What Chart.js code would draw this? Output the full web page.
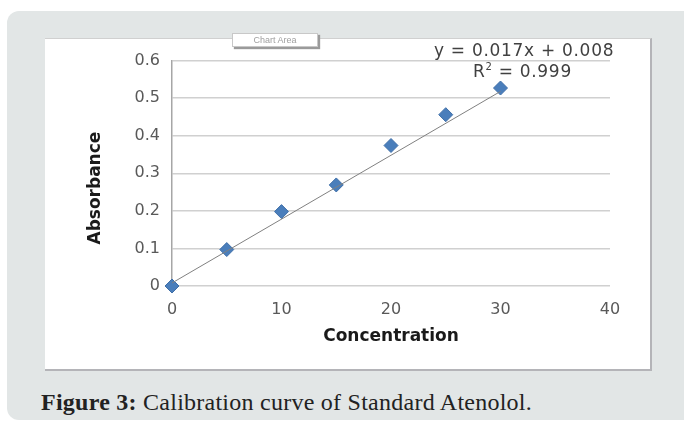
<!DOCTYPE html>
<html>
<head>
<meta charset="utf-8">
<script src="https://cdn.jsdelivr.net/npm/chart.js@4.4.0/dist/chart.umd.min.js"></script>
<style>
  body { margin: 0; background: #fff; width: 684px; height: 425px; overflow: hidden; position: relative; }
  #panel { position: absolute; left: 7px; top: 11px; width: 700px; height: 409px; background: #e2e6e6; border-radius: 12px; }
  #box { position: absolute; left: 45px; top: 38px; width: 605px; height: 330px; background: #fff; border-right: 2px solid #b4b4b8; border-bottom: 2px solid #b4b4b8; border-top: 1px solid #d0d0d0; }
  #box canvas { position: absolute; left: 0; top: 0; }
  #tag { position: absolute; left: 232px; top: 33px; width: 84px; height: 12px; background: #fff; border: 1px solid #c8c8c8; box-shadow: 2px 2px 1px #9a9a9a; font: 9px "Liberation Sans", sans-serif; color: #a0a0a0; text-align: center; line-height: 12px; }
  .eq { position: absolute; font: 17px "DejaVu Sans", sans-serif; color: #404040; white-space: nowrap; letter-spacing: 0.7px; }
  #caption { position: absolute; left: 41px; top: 389px; font: 24px "Liberation Serif", serif; color: #222; white-space: nowrap; letter-spacing: 0.25px; }
</style>
</head>
<body>
<div id="panel"></div>
<div id="box"><canvas id="myChart" width="605" height="330"></canvas></div>
<div id="tag">Chart Area</div>
<div class="eq" style="left:434px; top:40px;">y = 0.017x + 0.008</div>
<div class="eq" style="left:473px; top:61px;">R<sup style="font-size:10px">2</sup> = 0.999</div>
<div id="caption"><b>Figure 3:</b> Calibration curve of Standard Atenolol.</div>
<script>
// concentration vs absorbance
const concentration = [0, 5, 10, 15, 20, 25, 30];
const absorbance = [0, 0.097, 0.198, 0.269, 0.374, 0.456, 0.527];
// linear trendline end points
const trendX = [0, 30];
const trendY = [0.008, 0.518];
const xTicks = [0, 10, 20, 30, 40];
const yTicks = [0, 0.1, 0.2, 0.3, 0.4, 0.5, 0.6];

const points = concentration.map((c, i) => ({x: c, y: absorbance[i]}));
const trend = trendX.map((c, i) => ({x: c, y: trendY[i]}));

const ctx = document.getElementById('myChart');
const myChart = new Chart(ctx, {
    type: 'scatter',
    data: {
        datasets: [{
            label: 'Trend',
            data: trend,
            showLine: true,
            borderColor: '#808080',
            borderWidth: 1,
            pointRadius: 0
        },
        {
            label: 'Absorbance',
            data: points,
            clip: false,
            pointStyle: 'rectRot',
            pointRadius: 7,
            backgroundColor: '#4a7ebb',
            borderColor: '#3f6fa8',
            borderWidth: 1
        }]
    },
    options: {
        responsive: false,
        animation: false,
        layout: { padding: { top: 19, right: 40, bottom: 0, left: 0 } },
        scales: {
            x: {
                type: 'linear',
                min: 0,
                max: 40,
                afterFit: s => { s.height = 83; },
                afterBuildTicks: s => { s.ticks = xTicks.map(v => ({value: v})); },
                grid: { display: false, drawTicks: false },
                border: { display: false },
                ticks: {
                    padding: 14,
                    color: '#595959',
                    font: { family: 'DejaVu Sans', size: 16 }
                },
                title: {
                    display: true,
                    text: 'Concentration',
                    color: '#1a1a1a',
                    font: { family: 'DejaVu Sans', size: 17, weight: 'bold' },
                    padding: { top: 0, bottom: 22 }
                }
            },
            y: {
                min: 0,
                max: 0.6,
                afterFit: s => { s.width = 127; },
                afterBuildTicks: s => { s.ticks = yTicks.map(v => ({value: v})); },
                grid: { color: '#d0d0d0', lineWidth: 1.5, drawTicks: false },
                border: { color: '#a6a6a6', width: 1.5 },
                ticks: {
                    padding: 12,
                    color: '#595959',
                    font: { family: 'DejaVu Sans', size: 16 },
                    callback: v => String(v)
                },
                title: {
                    display: true,
                    text: 'Absorbance     ',   // trailing spaces push it a bit lower, like the original
                    color: '#1a1a1a',
                    font: { family: 'DejaVu Sans', size: 17, weight: 'bold' },
                    padding: { top: 40, bottom: 0 }
                }
            }
        },
        plugins: {
            legend: { display: false },
            tooltip: { enabled: false }
        }
    }
});
</script>
</body>
</html>
